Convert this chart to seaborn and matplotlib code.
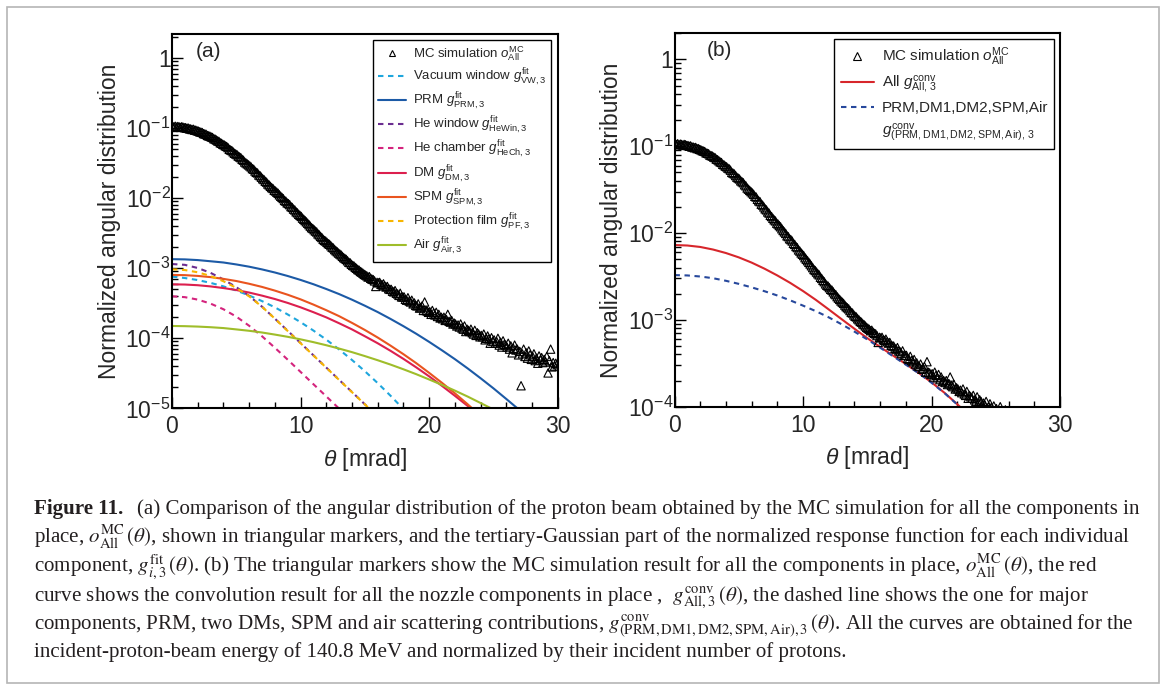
import numpy as np
import matplotlib
matplotlib.use("Agg")
import matplotlib.pyplot as plt
import seaborn as sns
from matplotlib.patches import Rectangle
from matplotlib.lines import Line2D
from matplotlib.ticker import (FixedLocator, MultipleLocator, LogLocator,
                               NullFormatter, FuncFormatter)

# ----------------------------------------------------------------- data
# MC simulation o_All^MC, histogram bins of 0.1 mrad (centres 0.05 ... 29.95)
mc_values = [
    1.06e-1, 1.05e-1, 1.07e-1, 1.04e-1, 1.06e-1, 1.05e-1, 1.03e-1, 1.05e-1, 1.04e-1, 1.02e-1,
    1.02e-1, 1.00e-1, 1.01e-1, 9.8e-2, 9.8e-2, 9.6e-2, 9.7e-2, 9.4e-2, 9.4e-2, 9.2e-2,
    9.1e-2, 8.9e-2, 8.8e-2, 8.7e-2, 8.4e-2, 8.3e-2, 8.2e-2, 7.9e-2, 7.8e-2, 7.7e-2,
    7.5e-2, 7.4e-2, 7.1e-2, 7.0e-2, 6.8e-2, 6.6e-2, 6.5e-2, 6.2e-2, 6.1e-2, 5.9e-2,
    5.8e-2, 5.6e-2, 5.5e-2, 5.3e-2, 5.0e-2, 4.9e-2, 4.8e-2, 4.6e-2, 4.4e-2, 4.3e-2,
    4.2e-2, 4.0e-2, 3.9e-2, 3.8e-2, 3.6e-2, 3.5e-2, 3.3e-2, 3.2e-2, 3.1e-2, 3.0e-2,
    2.9e-2, 2.8e-2, 2.65e-2, 2.6e-2, 2.45e-2, 2.35e-2, 2.3e-2, 2.15e-2, 2.1e-2, 2.0e-2,
    1.9e-2, 1.85e-2, 1.75e-2, 1.7e-2, 1.6e-2, 1.55e-2, 1.48e-2, 1.42e-2, 1.38e-2, 1.3e-2,
    1.27e-2, 1.22e-2, 1.18e-2, 1.12e-2, 1.07e-2, 1.03e-2, 9.9e-3, 9.3e-3, 9.1e-3, 8.6e-3,
    8.4e-3, 8.1e-3, 7.6e-3, 7.4e-3, 7.0e-3, 6.8e-3, 6.4e-3, 6.2e-3, 5.9e-3, 5.7e-3,
    5.5e-3, 5.2e-3, 5.0e-3, 4.8e-3, 4.6e-3, 4.4e-3, 4.2e-3, 4.0e-3, 3.8e-3, 3.7e-3,
    3.55e-3, 3.4e-3, 3.3e-3, 3.1e-3, 3.0e-3, 2.85e-3, 2.75e-3, 2.6e-3, 2.5e-3, 2.45e-3,
    2.35e-3, 2.25e-3, 2.2e-3, 2.1e-3, 2.0e-3, 1.95e-3, 1.85e-3, 1.78e-3, 1.72e-3, 1.65e-3,
    1.6e-3, 1.55e-3, 1.48e-3, 1.42e-3, 1.38e-3, 1.34e-3, 1.28e-3, 1.22e-3, 1.2e-3, 1.14e-3,
    1.1e-3, 1.08e-3, 1.03e-3, 1.0e-3, 9.6e-4, 9.4e-4, 9.0e-4, 8.8e-4, 8.5e-4, 8.2e-4,
    8.0e-4, 7.8e-4, 7.5e-4, 7.6e-4, 7.2e-4, 7.0e-4, 6.9e-4, 6.6e-4, 5.5e-4, 6.3e-4,
    6.2e-4, 6.3e-4, 5.9e-4, 5.8e-4, 6.0e-4, 5.6e-4, 5.4e-4, 5.5e-4, 5.1e-4, 5.0e-4,
    5.0e-4, 4.7e-4, 4.6e-4, 4.8e-4, 4.4e-4, 4.3e-4, 4.1e-4, 4.4e-4, 3.9e-4, 3.9e-4,
    3.9e-4, 3.6e-4, 3.5e-4, 3.8e-4, 3.4e-4, 3.3e-4, 3.5e-4, 3.1e-4, 3.2e-4, 2.95e-4,
    2.9e-4, 3.1e-4, 2.7e-4, 2.75e-4, 2.9e-4, 2.5e-4, 3.3e-4, 2.5e-4, 2.45e-4, 2.35e-4,
    2.4e-4, 2.2e-4, 2.5e-4, 2.3e-4, 2.15e-4, 2.35e-4, 2.05e-4, 2.2e-4, 1.95e-4, 2.0e-4,
    1.9e-4, 2.0e-4, 1.8e-4, 1.85e-4, 2.2e-4, 1.75e-4, 1.7e-4, 1.8e-4, 1.6e-4, 1.65e-4,
    1.6e-4, 1.5e-4, 1.55e-4, 1.45e-4, 1.6e-4, 1.4e-4, 1.35e-4, 1.5e-4, 1.25e-4, 1.35e-4,
    1.3e-4, 1.25e-4, 1.35e-4, 1.2e-4, 1.15e-4, 1.3e-4, 1.1e-4, 1.2e-4, 1.15e-4, 1.05e-4,
    1.1e-4, 1.05e-4, 1.15e-4, 9.5e-5, 1.0e-4, 1.08e-4, 9.8e-5, 8.5e-5, 1.02e-4, 9.0e-5,
    9.5e-5, 8.5e-5, 9.0e-5, 1.0e-4, 8.0e-5, 8.8e-5, 7.5e-5, 9.2e-5, 8.2e-5, 8.0e-5,
    7.5e-5, 8.5e-5, 7.0e-5, 7.8e-5, 6.2e-5, 7.2e-5, 8.0e-5, 6.8e-5, 7.0e-5, 5.8e-5,
    6.5e-5, 2.1e-5, 6.0e-5, 7.0e-5, 5.5e-5, 6.2e-5, 5.2e-5, 6.6e-5, 5.8e-5, 5.0e-5,
    5.5e-5, 6.0e-5, 4.8e-5, 5.2e-5, 4.4e-5, 5.6e-5, 4.9e-5, 5.3e-5, 4.5e-5, 5.0e-5,
    4.6e-5, 5.5e-5, 3.2e-5, 4.8e-5, 7.0e-5, 3.9e-5, 4.5e-5, 4.0e-5, 4.4e-5, 4.2e-5,
]
mc_bin_width = 0.1

# panel (a): tertiary-Gaussian fits g_{i,3}^fit, sampled at theta = 0, 1, 2, ... mrad
vw_fit = [7.60e-4, 7.26e-4, 6.79e-4, 6.19e-4, 5.52e-4, 4.81e-4, 4.09e-4, 3.40e-4, 2.77e-4,
          2.19e-4, 1.70e-4, 1.29e-4, 9.57e-5, 6.93e-5, 4.90e-5, 3.39e-5, 2.29e-5, 1.51e-5, 9.75e-6]
prm_fit = [1.35e-3, 1.34e-3, 1.31e-3, 1.26e-3, 1.21e-3, 1.135e-3, 1.054e-3, 9.64e-4, 8.71e-4,
           7.76e-4, 6.82e-4, 5.92e-4, 5.06e-4, 4.28e-4, 3.56e-4, 2.92e-4, 2.37e-4, 1.89e-4,
           1.49e-4, 1.16e-4, 8.89e-5, 6.73e-5, 5.04e-5, 3.71e-5, 2.69e-5, 1.93e-5, 1.36e-5, 9.53e-6]
hewin_fit = [1.15e-3, 1.12e-3, 1.01e-3, 8.61e-4, 6.92e-4, 5.37e-4, 4.03e-4, 2.83e-4, 1.91e-4,
             1.28e-4, 8.55e-5, 5.71e-5, 3.82e-5, 2.55e-5, 1.71e-5, 1.14e-5, 7.62e-6]
hech_fit = [3.98e-4, 3.87e-4, 3.57e-4, 3.13e-4, 2.60e-4, 2.04e-4, 1.51e-4, 1.07e-4, 7.33e-5,
            4.95e-5, 3.31e-5, 2.21e-5, 1.48e-5, 9.89e-6]
dm_fit = [5.90e-4, 5.86e-4, 5.73e-4, 5.51e-4, 5.22e-4, 4.89e-4, 4.50e-4, 4.07e-4, 3.64e-4,
          3.20e-4, 2.77e-4, 2.36e-4, 1.99e-4, 1.64e-4, 1.34e-4, 1.07e-4, 8.49e-5, 6.62e-5,
          5.08e-5, 3.84e-5, 2.86e-5, 2.09e-5, 1.51e-5, 1.08e-5, 7.53e-6]
spm_fit = [8.04e-4, 7.98e-4, 7.78e-4, 7.48e-4, 7.06e-4, 6.58e-4, 6.01e-4, 5.42e-4, 4.80e-4,
           4.19e-4, 3.60e-4, 3.03e-4, 2.52e-4, 2.07e-4, 1.66e-4, 1.315e-4, 1.025e-4, 7.85e-5,
           5.93e-5, 4.41e-5, 3.21e-5, 2.31e-5, 1.64e-5, 1.14e-5, 7.80e-6]
pf_fit = [9.68e-4, 9.44e-4, 8.77e-4, 7.76e-4, 6.53e-4, 5.25e-4, 3.98e-4, 2.82e-4, 1.91e-4,
          1.27e-4, 8.51e-5, 5.69e-5, 3.80e-5, 2.54e-5, 1.70e-5, 1.14e-5, 7.59e-6]
air_fit = [1.50e-4, 1.49e-4, 1.47e-4, 1.44e-4, 1.40e-4, 1.34e-4, 1.28e-4, 1.21e-4, 1.13e-4,
           1.05e-4, 9.66e-5, 8.81e-5, 7.96e-5, 7.13e-5, 6.34e-5, 5.57e-5, 4.86e-5, 4.21e-5,
           3.61e-5, 3.07e-5, 2.58e-5, 2.16e-5, 1.79e-5, 1.47e-5, 1.19e-5, 9.62e-6]

# panel (b): convolution results, sampled at theta = 0, 1, 2, ... mrad
all_conv = [7.28e-3, 7.19e-3, 6.92e-3, 6.46e-3, 5.89e-3, 5.25e-3, 4.57e-3, 3.89e-3, 3.25e-3,
            2.67e-3, 2.15e-3, 1.70e-3, 1.32e-3, 1.02e-3, 7.91e-4, 6.17e-4, 4.88e-4, 3.89e-4,
            3.10e-4, 2.45e-4, 1.91e-4, 1.45e-4, 1.07e-4, 7.76e-5]
major_conv = [3.28e-3, 3.25e-3, 3.16e-3, 3.02e-3, 2.82e-3, 2.60e-3, 2.37e-3, 2.14e-3, 1.91e-3,
              1.68e-3, 1.46e-3, 1.26e-3, 1.07e-3, 8.91e-4, 7.33e-4, 5.96e-4, 4.79e-4, 3.82e-4,
              3.05e-4, 2.43e-4, 1.89e-4, 1.44e-4, 1.06e-4, 7.71e-5]

x_ticks = [0, 10, 20, 30]

legend_a = [
    ("MC simulation $o^{\\mathrm{MC}}_{\\mathrm{All}}$", None),
    ("Vacuum window $g^{\\mathrm{fit}}_{\\mathrm{VW,3}}$", vw_fit),
    ("PRM $g^{\\mathrm{fit}}_{\\mathrm{PRM,3}}$", prm_fit),
    ("He window $g^{\\mathrm{fit}}_{\\mathrm{HeWin,3}}$", hewin_fit),
    ("He chamber $g^{\\mathrm{fit}}_{\\mathrm{HeCh,3}}$", hech_fit),
    ("DM $g^{\\mathrm{fit}}_{\\mathrm{DM,3}}$", dm_fit),
    ("SPM $g^{\\mathrm{fit}}_{\\mathrm{SPM,3}}$", spm_fit),
    ("Protection film $g^{\\mathrm{fit}}_{\\mathrm{PF,3}}$", pf_fit),
    ("Air $g^{\\mathrm{fit}}_{\\mathrm{Air,3}}$", air_fit),
]
styles_a = [
    None,
    ("#1ea6dd", "--"),
    ("#1c5aa6", "-"),
    ("#6b2d90", "--"),
    ("#d4247d", "--"),
    ("#dc1f4e", "-"),
    ("#e9541f", "-"),
    ("#f7b500", "--"),
    ("#9fbd2a", "-"),
]

caption_lines = [
    "(a) Comparison of the angular distribution of the proton beam obtained by the MC simulation for all the components in",
    "place, $o^{\\mathrm{MC}}_{\\mathrm{All}}\\,(\\theta)$, shown in triangular markers, and the tertiary-Gaussian part of the normalized response function for each individual",
    "component, $g^{\\mathrm{fit}}_{i,3}\\,(\\theta)$. (b) The triangular markers show the MC simulation result for all the components in place, $o^{\\mathrm{MC}}_{\\mathrm{All}}\\,(\\theta)$, the red",
    "curve shows the convolution result for all the nozzle components in place ,  $g^{\\mathrm{conv}}_{\\mathrm{All},3}\\,(\\theta)$, the dashed line shows the one for major",
    "components, PRM, two DMs, SPM and air scattering contributions, $g^{\\mathrm{conv}}_{(\\mathrm{PRM,DM1,DM2,SPM,Air}),3}\\,(\\theta)$. All the curves are obtained for the",
    "incident-proton-beam energy of 140.8 MeV and normalized by their incident number of protons.",
]

# ----------------------------------------------------------------- style
sns.set_style("ticks")
plt.rcParams["font.family"] = ["Liberation Sans", "DejaVu Sans"]
plt.rcParams["mathtext.fontset"] = "custom"
plt.rcParams["mathtext.rm"] = "Liberation Sans"
plt.rcParams["mathtext.it"] = "Liberation Sans:italic"
plt.rcParams["mathtext.bf"] = "Liberation Sans:bold"
plt.rcParams["mathtext.sf"] = "Liberation Sans"

W, H = 1168, 689
fig = plt.figure(figsize=(W / 100, H / 100), dpi=100)
fig.patch.set_facecolor("white")


def fx(px):
    return px / W


def fy(py):
    return 1 - py / H


def make_axes(left, right, top, bottom):
    return fig.add_axes([fx(left), fy(bottom), fx(right - left), (bottom - top) / H])


ax_a = make_axes(172, 557.7, 34.3, 408.3)
ax_b = make_axes(674.5, 1060, 33.3, 406.7)


def log_label(v, pos):
    e = int(round(np.log10(v)))
    if e == 0:
        return "1"
    return "$10^{%d}$" % e


def style_axes(ax, ymin, ymax):
    ax.set_yscale("log")
    ax.set_xlim(0, 30)
    ax.set_ylim(ymin, ymax)
    ax.xaxis.set_major_locator(FixedLocator(x_ticks))
    ax.xaxis.set_minor_locator(MultipleLocator(2))
    ax.yaxis.set_major_locator(LogLocator(base=10, numticks=30))
    ax.yaxis.set_minor_locator(LogLocator(base=10, subs=np.arange(2, 10), numticks=30))
    ax.yaxis.set_minor_formatter(NullFormatter())
    ax.yaxis.set_major_formatter(FuncFormatter(log_label))
    ax.tick_params(which="both", direction="in", top=False, right=False,
                   color="black", width=1.0)
    ax.tick_params(which="major", length=8, labelsize=16.5)
    ax.tick_params(which="minor", length=4.3)
    ax.tick_params(axis="y", which="major", pad=1)
    ax.tick_params(axis="x", which="major", pad=5)
    for s in ax.spines.values():
        s.set_visible(True)
        s.set_linewidth(1.5)
        s.set_color("black")
    ax.set_facecolor("white")
    ax.set_ylabel("Normalized angular distribution", fontsize=16.5, va="center")
    ax.set_xlabel("$\\theta$ [mrad]", fontsize=16.5, va="center")
    ax.yaxis.set_label_coords(-0.163, 0.5)
    ax.xaxis.set_label_coords(0.5, -0.1356)


theta_mc = mc_bin_width * (np.arange(len(mc_values)) + 0.5)
mc_kw = dict(marker="^", s=36, facecolor="none", edgecolor="black", linewidth=0.8, zorder=3)

# ---------- panel (a)
sns.scatterplot(x=theta_mc, y=mc_values, ax=ax_a, **mc_kw)
handles_a = [Line2D([], [], marker="^", ls="none", mfc="none", mec="black", ms=5, mew=0.8)]
for (label, vals), st in zip(legend_a[1:], styles_a[1:]):
    color, ls = st
    th = np.arange(len(vals))
    kw = dict(color=color, linewidth=1.5, zorder=2)
    if ls == "--":
        kw.update(linestyle=(0, (2.6, 2.2)))
    sns.lineplot(x=th, y=vals, ax=ax_a, estimator=None, sort=False, **kw)
    handles_a.append(Line2D([], [], **kw))
style_axes(ax_a, 1e-5, 2.2)
leg_a = ax_a.legend(handles_a, [l for l, _ in legend_a], loc="upper right",
                    bbox_to_anchor=(fx(551), fy(40)), bbox_transform=fig.transFigure,
                    fontsize=9.5, frameon=True, fancybox=False, framealpha=1,
                    edgecolor="black", handlelength=2.1, handletextpad=0.55,
                    labelspacing=0.24, borderpad=0.35, borderaxespad=0)
leg_a.get_frame().set_linewidth(1.0)
ax_a.text(0.062, 0.955, "(a)", transform=ax_a.transAxes, fontsize=15, va="center", ha="left")

# ---------- panel (b)
sns.scatterplot(x=theta_mc, y=mc_values, ax=ax_b, **mc_kw)
kw_red = dict(color="#d7262b", linewidth=1.5, zorder=2)
kw_blue = dict(color="#27489c", linewidth=1.5, linestyle=(0, (2.6, 2.2)), zorder=2)
sns.lineplot(x=np.arange(len(all_conv)), y=all_conv, ax=ax_b, estimator=None, sort=False, **kw_red)
sns.lineplot(x=np.arange(len(major_conv)), y=major_conv, ax=ax_b, estimator=None, sort=False, **kw_blue)
style_axes(ax_b, 1e-4, 2.0)
handles_b = [Line2D([], [], marker="^", ls="none", mfc="none", mec="black", ms=5.5, mew=0.8),
             Line2D([], [], **kw_red), Line2D([], [], **kw_blue), Line2D([], [], color="none")]
labels_b = ["MC simulation $o^{\\mathrm{MC}}_{\\mathrm{All}}$",
            "All $g^{\\mathrm{conv}}_{\\mathrm{All,\\,3}}$",
            "PRM,DM1,DM2,SPM,Air",
            "$g^{\\mathrm{conv}}_{\\mathrm{(PRM,DM1,DM2,SPM,Air),\\,3}}$"]
leg_b = ax_b.legend(handles_b, labels_b, loc="upper right",
                    bbox_to_anchor=(fx(1054.4), fy(39.3)), bbox_transform=fig.transFigure,
                    fontsize=11, frameon=True, fancybox=False, framealpha=1,
                    edgecolor="black", handlelength=2.2, handletextpad=0.5,
                    labelspacing=0.38, borderpad=0.4, borderaxespad=0)
leg_b.get_frame().set_linewidth(1.0)
ax_b.text(0.084, 0.955, "(b)", transform=ax_b.transAxes, fontsize=15, va="center", ha="left")

# ---------- outer frame
fig.add_artist(Rectangle((fx(7), fy(683)), fx(1159 - 7), (683 - 7) / H, transform=fig.transFigure,
                         fill=False, edgecolor="#b5b5b5", linewidth=1.2))

# ---------- caption
cap_font = ["Liberation Serif", "DejaVu Serif"]
cap_color = "#231f20"
baselines = [514, 543, 571.5, 600, 628.5, 657]
renderer = fig.canvas.get_renderer()
head = fig.text(fx(33.5), fy(baselines[0]), "Figure 11.", family=cap_font, fontweight="bold",
                fontsize=13, color=cap_color, va="baseline", ha="left", math_fontfamily="stix")
cap_texts = []
for i, line in enumerate(caption_lines):
    t = fig.text(fx(33.5), fy(baselines[i]), line, family=cap_font, fontsize=13,
                 color=cap_color, va="baseline", ha="left", math_fontfamily="stix")
    cap_texts.append(t)


def layout_caption(fs):
    head.set_fontsize(fs)
    for t in cap_texts:
        t.set_fontsize(fs)
    hb = head.get_window_extent(renderer)
    cap_texts[0].set_x(fx(hb.x1 + 0.7 * fs * 1.389))
    rb = cap_texts[0].get_window_extent(renderer)
    return rb.x1 - hb.x0


w = layout_caption(13)
layout_caption(13 * (1132 - 33.5) / w)

fig.savefig("out.png", dpi=100, facecolor="white")
